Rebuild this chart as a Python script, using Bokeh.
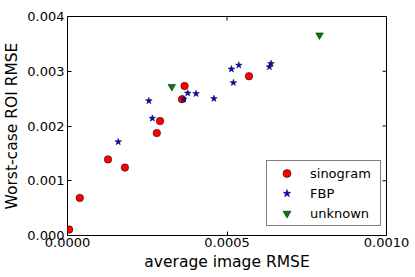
import math
from bokeh.plotting import figure
from bokeh.models import (Range1d, SingleIntervalTicker, PrintfTickFormatter,
                          Legend, LegendItem)
from bokeh.embed import file_html
from bokeh.resources import INLINE

# data
sino_x = [0.0000052, 0.0000386, 0.000127, 0.000180, 0.000280, 0.000290, 0.000359, 0.000367, 0.000569]
sino_y = [0.000109, 0.000687, 0.00139, 0.00124, 0.00187, 0.00209, 0.00249, 0.00273, 0.00291]

fbp_x = [0.000159, 0.000255, 0.000266, 0.000364, 0.000377, 0.000403, 0.000459, 0.000514,
         0.000520, 0.000537, 0.000633, 0.000638]
fbp_y = [0.00171, 0.00246, 0.00214, 0.00249, 0.00260, 0.00259, 0.00250, 0.00304,
         0.00279, 0.00311, 0.00308, 0.00314]

unk_x = [0.000327, 0.000790]
unk_y = [0.00272, 0.00366]

labels = ["sinogram", "FBP", "unknown"]
x_label = "average image RMSE"
y_label = "Worst-case ROI RMSE"

x_min, x_max, x_step = 0.0, 0.001, 0.0005
y_min, y_max, y_step = 0.0, 0.004, 0.001
x_ticks = [0.0005]
y_ticks = [0.001, 0.002, 0.003]

FONT = "DejaVu Sans"

p = figure(width=415, height=277, output_backend="svg", toolbar_location=None, title=None,
           x_range=Range1d(x_min, x_max), y_range=Range1d(y_min, y_max),
           min_border_left=67, min_border_right=29, min_border_top=16, min_border_bottom=42)
p.background_fill_color = "white"
p.border_fill_color = "white"
p.outline_line_color = "black"
p.outline_line_width = 1
p.xgrid.visible = False
p.ygrid.visible = False

xa = p.xaxis[0]
xa.ticker = SingleIntervalTicker(interval=x_step, num_minor_ticks=0)
xa.formatter = PrintfTickFormatter(format="%.4f")
ya = p.yaxis[0]
ya.ticker = SingleIntervalTicker(interval=y_step, num_minor_ticks=0)
ya.formatter = PrintfTickFormatter(format="%.3f")

for ax in (xa, ya):
    ax.axis_line_color = None
    ax.major_tick_in = 4
    ax.major_tick_out = 0
    ax.minor_tick_in = 0
    ax.minor_tick_out = 0
    ax.major_tick_line_color = "black"
    ax.major_label_text_font = FONT
    ax.major_label_text_font_size = "13px"
    ax.major_label_text_color = "black"
    ax.axis_label_text_font = FONT
    ax.axis_label_text_font_size = "15.5px"
    ax.axis_label_text_font_style = "normal"
    ax.axis_label_text_color = "black"

xa.axis_label = x_label
ya.axis_label = y_label
xa.major_label_standoff = 2
xa.axis_label_standoff = 3
ya.major_label_standoff = 3
ya.axis_label_standoff = 3

# inward ticks on the top and right edges of the frame
p.ray(x=x_ticks, y=[y_max] * len(x_ticks), length=4, angle=-math.pi / 2,
      length_units="screen", line_color="black", line_width=1)
p.ray(x=[x_max] * len(y_ticks), y=y_ticks, length=4, angle=math.pi,
      length_units="screen", line_color="black", line_width=1)

r1 = p.scatter(sino_x, sino_y, marker="circle", size=7.5, fill_color="#ff0000",
               line_color="black", line_width=0.5)
r2 = p.scatter(fbp_x, fbp_y, marker="star", size=7, fill_color="#0000ff",
               line_color="black", line_width=0.5)
r3 = p.scatter(unk_x, unk_y, marker="inverted_triangle", size=7.5, fill_color="#008000",
               line_color="black", line_width=0.5)

legend = Legend(items=[LegendItem(label=labels[0], renderers=[r1]),
                       LegendItem(label=labels[1], renderers=[r2]),
                       LegendItem(label=labels[2], renderers=[r3])],
                location=(199, 9))
legend.border_line_color = "black"
legend.border_line_width = 1
legend.background_fill_color = "white"
legend.background_fill_alpha = 1
legend.label_text_font = FONT
legend.label_text_font_size = "13px"
legend.label_text_color = "black"
legend.padding = 2
legend.spacing = 0
legend.label_height = 20
legend.glyph_height = 20
legend.glyph_width = 35
legend.label_standoff = 6
legend.label_width = 68
legend.margin = 0
p.add_layout(legend, "center")

open("out.html", "w").write(file_html(p, INLINE))
